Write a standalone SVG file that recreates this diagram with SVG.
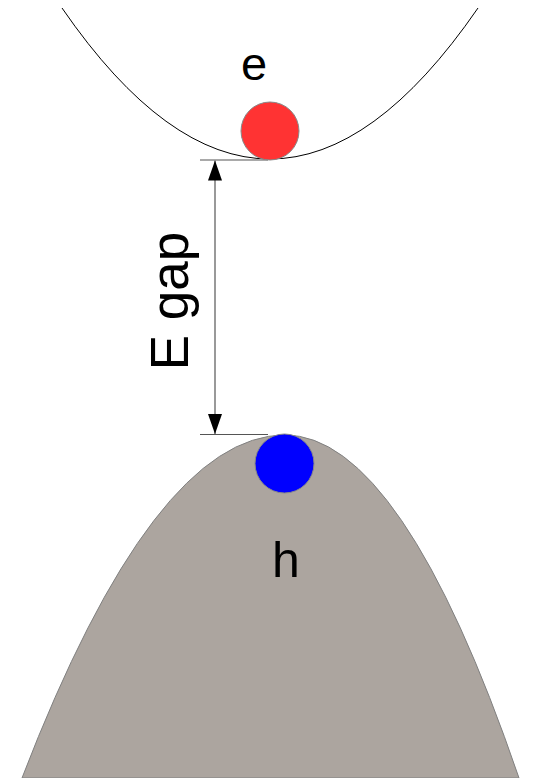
<svg xmlns="http://www.w3.org/2000/svg" width="542" height="778" viewBox="0 0 542 778">
<defs>
<style>
.lbl{font-family:"Liberation Sans",Arial,sans-serif;fill:#000}
.tick{stroke:#555;stroke-width:1.2;fill:none}
</style>
<marker id="ah" viewBox="0 0 20 14" refX="20" refY="7" markerWidth="20" markerHeight="14" markerUnits="userSpaceOnUse" orient="auto-start-reverse">
<path d="M0,0 L20,7 L0,14 Z" fill="#000"/>
</marker>
</defs>
<rect width="542" height="778" fill="#fff"/>
<g id="valence-band">
<path d="M22,778 Q154,435 285,435 Q401.5,435 519,778 Z" fill="#aca59f" stroke="#808080" stroke-width="1"/>
</g>
<g id="conduction-band">
<path d="M62,8 Q270,310 478,8" fill="none" stroke="#000" stroke-width="1"/>
</g>
<g id="connectors">
<line class="tick" x1="200" y1="160" x2="268" y2="160"/>
<line class="tick" x1="200" y1="434.5" x2="268" y2="434.5"/>
<line x1="215" y1="160.5" x2="215" y2="434" stroke="#555" stroke-width="1.2" marker-start="url(#ah)" marker-end="url(#ah)"/>
</g>
<g id="electron">
<circle cx="270" cy="131" r="29" fill="#ff3333" stroke="#888" stroke-width="1"/>
<text class="lbl" x="254" y="80" font-size="47" text-anchor="middle">e</text>
</g>
<g id="hole">
<circle cx="284.5" cy="463.5" r="29.5" fill="#0000ff" stroke="#888" stroke-width="1"/>
<text class="lbl" x="286" y="577" font-size="50" text-anchor="middle">h</text>
</g>
<g id="gap-label">
<text class="lbl" transform="translate(188,301) rotate(-90)" x="0" y="0" font-size="53" text-anchor="middle">E gap</text>
</g>
</svg>
